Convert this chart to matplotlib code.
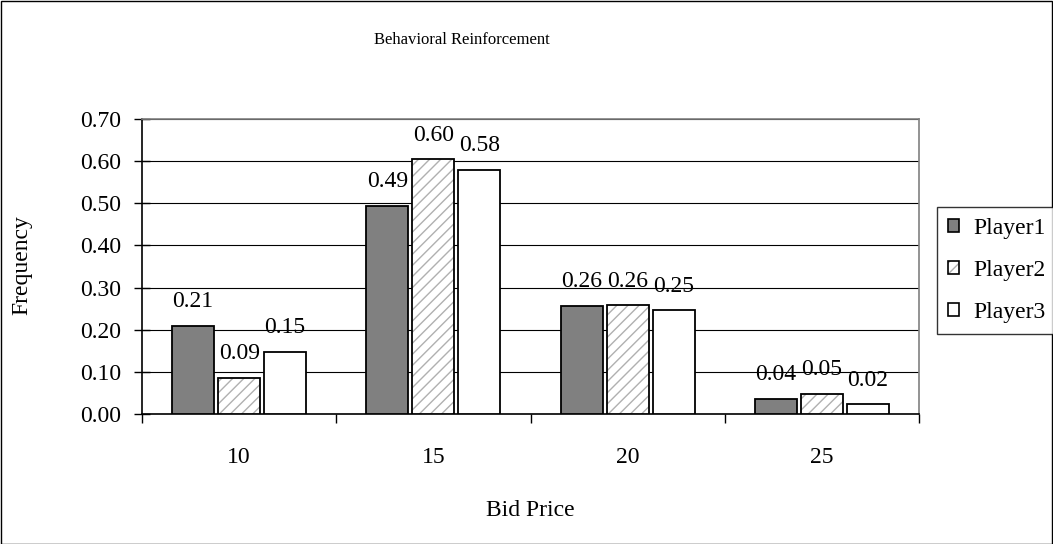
import matplotlib
matplotlib.use("Agg")
import matplotlib.pyplot as plt
from matplotlib.patches import Patch, Rectangle
from matplotlib.legend_handler import HandlerBase
import numpy as np

# Chart data
categories = ["10", "15", "20", "25"]
series_names = ["Player1", "Player2", "Player3"]
player1 = [0.209, 0.494, 0.257, 0.036]
player2 = [0.086, 0.604, 0.258, 0.048]
player3 = [0.148, 0.580, 0.246, 0.023]
y_ticks = [0.0, 0.1, 0.2, 0.3, 0.4, 0.5, 0.6, 0.7]

title_text = "Behavioral Reinforcement"
x_label = "Bid Price"
y_label = "Frequency"

plt.rcParams["font.family"] = ["Liberation Serif", "DejaVu Serif"]
plt.rcParams["hatch.linewidth"] = 1.0

W, H = 1053, 544
fig = plt.figure(figsize=(W / 100, H / 100), dpi=100)
fig.patch.set_facecolor("white")

# plot area in pixel geometry
left, right, top, bottom = 142, 919, 119, 414
ax = fig.add_axes([left / W, 1 - bottom / H, (right - left) / W, (bottom - top) / H])

x = np.arange(len(categories))
pitch = 0.237
width = 0.216
HATCH_COLOR = "#b0b0b0"
styles = [
    dict(facecolor="#808080", hatch=None),
    dict(facecolor="white", hatch="///"),
    dict(facecolor="white", hatch=None),
]
series = [player1, player2, player3]

FS = 17
for i, (vals, st) in enumerate(zip(series, styles)):
    xs = x + (i - 1) * pitch
    if st["hatch"]:
        # light grey hatch fill, outlined separately in black
        ax.bar(xs, vals, width=width, facecolor=st["facecolor"], hatch=st["hatch"],
               edgecolor=HATCH_COLOR, linewidth=0, zorder=3)
        ax.bar(xs, vals, width=width, fill=False, edgecolor="black",
               linewidth=1.3, zorder=3.5)
    else:
        ax.bar(xs, vals, width=width, facecolor=st["facecolor"],
               edgecolor="black", linewidth=1.3, zorder=3)
    for xi, v in zip(xs, vals):
        ax.annotate(f"{v:.2f}", (xi, v), xytext=(0, 13.5), textcoords="offset points",
                    ha="center", va="baseline", fontsize=FS, zorder=4)

ax.set_xlim(-0.5, len(categories) - 0.5)
ax.set_ylim(0, 0.7)
ax.set_yticks(y_ticks)
ax.set_yticklabels([f"{t:.2f}" for t in y_ticks], fontsize=FS)
ax.yaxis.grid(True, color="black", linewidth=0.8, zorder=0)
ax.set_axisbelow(True)

ax.set_xticks(x)
ax.set_xticklabels(categories, fontsize=FS)
ax.tick_params(axis="x", which="major", length=0, pad=23.5)
ax.set_xticks(np.arange(-0.5, len(categories), 1.0), minor=True)
ax.tick_params(axis="x", which="minor", direction="out", length=6.5, width=1, color="black")
ax.tick_params(axis="y", direction="inout", length=12, width=1, pad=9)

for s in ["top", "right"]:
    ax.spines[s].set_color("#808080")
    ax.spines[s].set_linewidth(1.2)
for s in ["left", "bottom"]:
    ax.spines[s].set_color("black")
    ax.spines[s].set_linewidth(1.2)

fig.text(462 / W, 1 - 40 / H, title_text, ha="center", va="center", fontsize=12)
fig.text(22 / W, 1 - 265 / H, y_label, ha="center", va="center", rotation=90, fontsize=FS)
fig.text(530 / W, 1 - 510 / H, x_label, ha="center", va="center", fontsize=FS)


class SwatchHandler(HandlerBase):
    """Square legend swatch with a light hatch and black outline."""

    def create_artists(self, legend, orig_handle, xdescent, ydescent, width, height,
                       fontsize, trans):
        st = orig_handle.style
        arts = []
        if st["hatch"]:
            arts.append(Rectangle((-xdescent, -ydescent), width, height,
                                  facecolor=st["facecolor"], hatch=st["hatch"],
                                  edgecolor=HATCH_COLOR, linewidth=0, transform=trans))
            arts.append(Rectangle((-xdescent, -ydescent), width, height, fill=False,
                                  edgecolor="black", linewidth=1.2, transform=trans))
        else:
            arts.append(Rectangle((-xdescent, -ydescent), width, height,
                                  facecolor=st["facecolor"], edgecolor="black",
                                  linewidth=1.2, transform=trans))
        return arts


handles = []
for st in styles:
    h = Patch(facecolor=st["facecolor"])
    h.style = st
    handles.append(h)

leg = fig.legend(handles, series_names, loc="upper left",
                 bbox_to_anchor=(937 / W, 1 - 207 / H), fontsize=FS,
                 frameon=True, fancybox=False, edgecolor="black",
                 handlelength=0.5, handleheight=0.5, handletextpad=0.6,
                 labelspacing=0.9, borderpad=0.45, borderaxespad=0,
                 handler_map={Patch: SwatchHandler()})
leg.get_frame().set_linewidth(1.0)

fig.add_artist(Rectangle((0.5 / W, 0.5 / H), 1 - 1.5 / W, 1 - 1.5 / H,
                         transform=fig.transFigure, fill=False,
                         edgecolor="black", linewidth=1.0))

fig.savefig("out.png", dpi=100, facecolor="white")
